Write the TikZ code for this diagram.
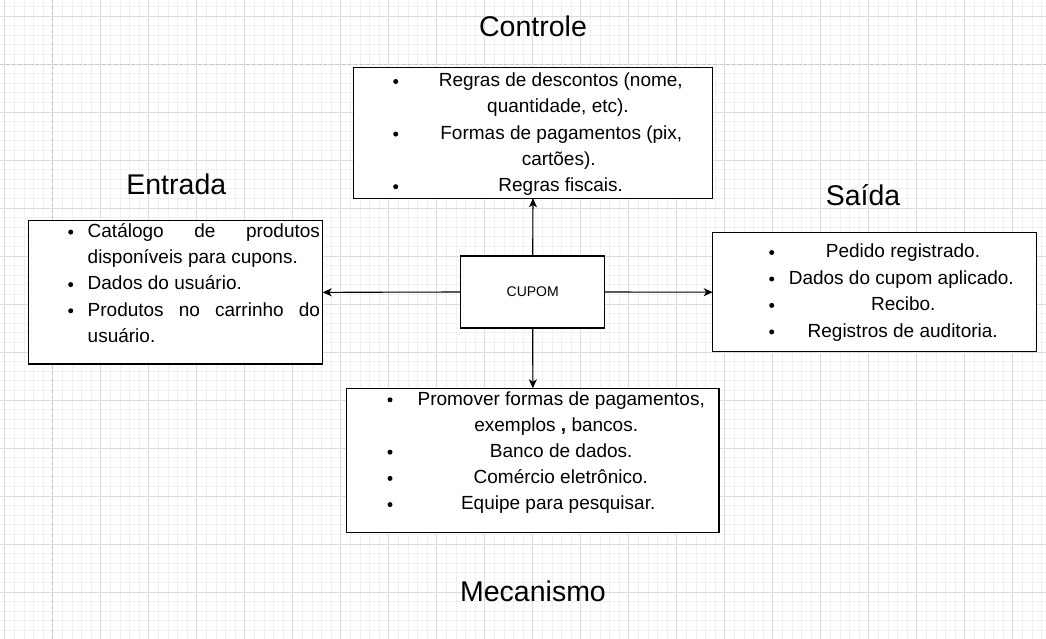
\documentclass[tikz,border=0pt]{standalone}
\usepackage{fontspec}
\setmainfont{Liberation Sans}
\usetikzlibrary{arrows.meta}
\definecolor{gridmajor}{HTML}{DCDCDC}
\definecolor{gridminor}{HTML}{F0F0F0}
\definecolor{pageline}{HTML}{C4C4C4}
\tikzset{
  boxshape/.style={draw=black, fill=white, line width=1.1pt, inner sep=0pt, outer sep=0pt, rectangle, anchor=north west},
  txt/.style={inner sep=0pt, outer sep=0pt, anchor=base, font=\fontsize{19}{22}\selectfont},
  ltxt/.style={txt, anchor=base west},
  title/.style={inner sep=0pt, outer sep=0pt, anchor=base, font=\fontsize{28.5}{32}\selectfont},
  conn/.style={line width=1.1pt, -{Stealth[length=9pt,width=8pt,inset=2.5pt]}},
  bul/.style={fill=black}
}
\begin{document}
\begin{tikzpicture}[x=1pt,y=-1pt]
\useasboundingbox (0,0) rectangle (1046,639);
\fill[white] (0,0) rectangle (1046,639);
% grid
\foreach \k in {0,...,108} {\draw[gridminor, line width=0.8pt] ({4.7+9.6*\k},0) -- ({4.7+9.6*\k},639);}
\foreach \k in {-1,...,65} {\draw[gridminor, line width=0.8pt] (0,{16+9.6*\k}) -- (1046,{16+9.6*\k});}
\foreach \k in {0,...,21} {\draw[gridmajor, line width=0.8pt] ({4.7+48*\k},0) -- ({4.7+48*\k},639);}
\foreach \k in {0,...,13} {\draw[gridmajor, line width=0.8pt] (0,{16+48*\k}) -- (1046,{16+48*\k});}
\draw[pageline, line width=0.8pt, dash pattern=on 3pt off 3pt] (52.7,0) -- (52.7,639);
\draw[pageline, line width=0.8pt, dash pattern=on 3pt off 3pt] (0,64) -- (1046,64);

% titles
\node[title] (tctrl) at (533,36.7) {Controle};
\node[title] (tent) at (176.3,194) {Entrada};
\node[title] (tsai) at (863,205.7) {Saída};
\node[title] (tmec) at (533,601.7) {Mecanismo};

% boxes
\node[boxshape, minimum width=359.4pt, minimum height=131pt] (ctrl) at (353.3,67.3) {};
\node[boxshape, minimum width=294.4pt, minimum height=143.3pt] (ent) at (28.3,220.7) {};
\node[boxshape, minimum width=324pt, minimum height=119pt] (sai) at (712.7,232.7) {};
\node[boxshape, minimum width=372.3pt, minimum height=144pt] (mec) at (346.7,388.3) {};
\node[boxshape, minimum width=144pt, minimum height=72pt] (cup) at (460.7,256) {};
\node[inner sep=0pt, font=\fontsize{14}{16}\selectfont] (cuptxt) at (cup.center) {CUPOM};

% arrows
\draw[conn] (cup.north) -- (ctrl.south);
\draw[conn] (cup.south) -- (mec.north);
\draw[conn] (cup.west) -- (ent.east);
\draw[conn] (cup.east) -- (sai.west);

% Controle text
\node[txt] (c1) at (560.8,86.7) {Regras de descontos (nome,};
\node[txt] (c2) at (558,113) {quantidade, etc).};
\node[txt] (c3) at (561.3,139.3) {Formas de pagamentos (pix,};
\node[txt] (c4) at (558.7,165.6) {cartões).};
\node[txt] (c5) at (560.7,191.9) {Regras fiscais.};
\foreach \y in {86.7,139.3,191.9} {\fill[bul] (395.7,\y-5.2) circle (2.5pt);}

% Entrada text
\node[ltxt] (e1) at (87.7,237.3) {\hbox to 232.3pt{Catálogo\hfill de\hfill produtos}};
\node[ltxt] (e2) at (87.7,263.5) {disponíveis para cupons.};
\node[ltxt] (e3) at (87.7,289.8) {Dados do usuário.};
\node[ltxt] (e4) at (87.7,316) {\hbox to 232.3pt{Produtos\hfill no\hfill carrinho\hfill do}};
\node[ltxt] (e5) at (87.7,342.3) {usuário.};
\foreach \y in {237.3,289.8,316} {\fill[bul] (70.7,\y-5.2) circle (2.5pt);}

% Saida text
\node[txt] (s1) at (903,257.7) {Pedido registrado.};
\node[txt] (s2) at (901.3,284.2) {Dados do cupom aplicado.};
\node[txt] (s3) at (903.3,310.6) {Recibo.};
\node[txt] (s4) at (902.7,337.1) {Registros de auditoria.};
\foreach \y in {257.7,284.2,310.6,337.1} {\fill[bul] (771.7,\y-5.2) circle (2.5pt);}

% Mecanismo text
\node[txt] (m1) at (561.2,405) {Promover formas de pagamentos,};
\node[txt] (m2) at (556.2,431.2) {exemplos \textbf{,} bancos.};
\node[txt] (m3) at (561.2,457.4) {Banco de dados.};
\node[txt] (m4) at (560.8,483.6) {Comércio eletrônico.};
\node[txt] (m5) at (558.2,509.8) {Equipe para pesquisar.};
\foreach \y in {405,457.4,483.6,509.8} {\fill[bul] (390,\y-5.2) circle (2.5pt);}
\end{tikzpicture}
\end{document}
